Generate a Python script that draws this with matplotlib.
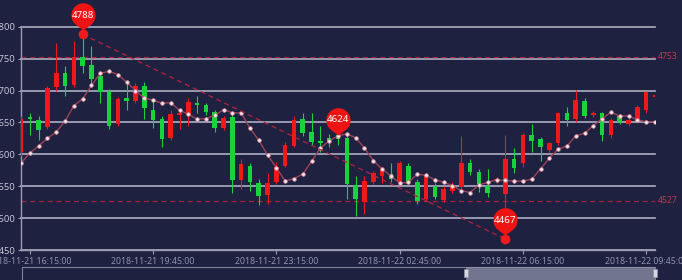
import numpy as np
import pandas as pd
import matplotlib
matplotlib.use("Agg")
import matplotlib.pyplot as plt
from matplotlib.path import Path
from matplotlib.patches import Rectangle

plt.rcParams['font.family'] = ['Noto Sans', 'DejaVu Sans']

# 15 minute bars, 2018-11-21 16:00 .. 2018-11-22 10:00
times = pd.date_range('2018-11-21 16:00', periods=73, freq='15min')
labels = times.strftime('%Y-%m-%d %H:%M:%S')

opens = [4604, 4658, 4653, 4643, 4705, 4727, 4708, 4752, 4740, 4722,
         4699, 4648, 4688, 4683, 4707, 4670, 4656, 4625, 4661, 4662,
         4680, 4678, 4667, 4642, 4658, 4559, 4582, 4555, 4536, 4556,
         4582, 4613, 4656, 4635, 4621, 4626, 4630, 4626, 4552, 4526,
         4556, 4566, 4569, 4556, 4582, 4557, 4530, 4551, 4528, 4543,
         4548, 4587, 4573, 4551, 4558, 4537, 4592, 4586, 4630, 4624,
         4607, 4617, 4664, 4655, 4683, 4661, 4665, 4631, 4660, 4647,
         4652, 4669, 4690]
closes = [4655, 4655, 4638, 4704, 4727, 4707, 4753, 4739, 4718, 4698,
          4645, 4687, 4683, 4707, 4673, 4653, 4624, 4663, 4664, 4682,
          4677, 4667, 4642, 4657, 4560, 4585, 4557, 4535, 4555, 4580,
          4615, 4653, 4633, 4619, 4617, 4620, 4624, 4553, 4530, 4558,
          4571, 4575, 4561, 4586, 4556, 4527, 4566, 4533, 4546, 4552,
          4587, 4573, 4553, 4540, 4561, 4592, 4579, 4630, 4621, 4611,
          4617, 4664, 4654, 4685, 4660, 4665, 4631, 4654, 4650, 4654,
          4674, 4697, 4693]
highs = [4660, 4664, 4660, 4707, 4774, 4738, 4777, 4788, 4769, 4725,
         4702, 4690, 4714, 4712, 4714, 4683, 4660, 4670, 4668, 4688,
         4691, 4681, 4670, 4660, 4665, 4592, 4587, 4561, 4570, 4588,
         4620, 4660, 4664, 4664, 4644, 4632, 4640, 4631, 4566, 4566,
         4574, 4580, 4587, 4590, 4587, 4561, 4570, 4555, 4550, 4556,
         4629, 4592, 4577, 4577, 4564, 4630, 4610, 4634, 4647, 4627,
         4620, 4667, 4674, 4701, 4688, 4668, 4667, 4657, 4663, 4657,
         4677, 4700, 4695]
lows = [4598, 4631, 4622, 4640, 4700, 4691, 4705, 4727, 4707, 4681,
        4640, 4645, 4670, 4680, 4655, 4642, 4611, 4622, 4640, 4644,
        4665, 4662, 4635, 4638, 4540, 4545, 4543, 4520, 4522, 4553,
        4580, 4612, 4628, 4615, 4603, 4612, 4615, 4530, 4504, 4506,
        4553, 4555, 4556, 4552, 4553, 4522, 4527, 4530, 4525, 4540,
        4545, 4567, 4541, 4533, 4555, 4467, 4571, 4580, 4603, 4590,
        4604, 4614, 4644, 4650, 4657, 4658, 4621, 4626, 4647, 4645,
        4650, 4665, 4688]
ma = [4586, 4602, 4613, 4625, 4635, 4652, 4676, 4687, 4708, 4727,
      4730, 4725, 4713, 4700, 4688, 4685, 4680, 4681, 4669, 4663,
      4655, 4656, 4661, 4670, 4665, 4665, 4641, 4622, 4599, 4579,
      4558, 4562, 4569, 4589, 4610, 4621, 4629, 4632, 4626, 4610,
      4590, 4577, 4566, 4555, 4556, 4569, 4567, 4560, 4556, 4551,
      4543, 4540, 4552, 4556, 4560, 4559, 4558, 4558, 4561, 4577,
      4594, 4608, 4613, 4629, 4633, 4645, 4656, 4666, 4660, 4660,
      4654, 4651, 4651]

pin_idx = [7, 36, 55]
pin_vals = [4788, 4624, 4467]
mark_lines = [4753, 4527]
tick_idx = [1, 15, 29, 43, 57, 71]

bg = '#1f2141'
grid_c = '#a6a9bd'
up_c = '#f01818'
down_c = '#18d43c'

fig = plt.figure(figsize=(6.82, 2.8), dpi=100)
fig.patch.set_facecolor(bg)
ax = fig.add_axes([21 / 682, 30 / 280, 634 / 682, 223.3 / 280])
ax.set_facecolor(bg)
ax.set_xlim(0, 72)
ax.set_ylim(4450, 4800)

ax.set_yticks(np.arange(4450, 4801, 50))
ax.yaxis.grid(True, color=grid_c, lw=1.25)
for gl in ax.get_ygridlines():
    gl.set_clip_on(False)
ax.set_axisbelow(True)
for s in ['top', 'right']:
    ax.spines[s].set_visible(False)
for s in ['left', 'bottom']:
    ax.spines[s].set_color('#9a9db2')
    ax.spines[s].set_linewidth(1.0)
ax.tick_params(axis='y', colors='#9a9db2', labelcolor='#c4c6d4',
               labelsize=6.8, length=2, pad=2)
ax.set_xticks(tick_idx)
ax.set_xticklabels([labels[i] for i in tick_idx])
ax.tick_params(axis='x', colors='#9a9db2', labelcolor='#8f93ab',
               labelsize=6.3, length=3, pad=2)

# candles
x = np.arange(len(opens))
o = np.array(opens, float)
c = np.array(closes, float)
cols = [up_c if cc >= oo else down_c for oo, cc in zip(o, c)]
ax.vlines(x, lows, highs, colors=cols, lw=0.8, zorder=3)
body = np.maximum(np.abs(c - o), 1.5)
ax.bar(x, body, bottom=np.minimum(o, c), width=0.52, color=cols,
       lw=0, zorder=4)

# moving average
ax.plot(x, ma, color='#9c4356', lw=1.0, marker='o', ms=2.6,
        mfc='#f6e8ec', mec='#d88a9c', mew=0.5, zorder=5)

# mark lines
for v in mark_lines:
    ax.axhline(v, ls=(0, (4, 3)), color='#a3243d', lw=0.9, zorder=2)
    ax.text(1.005, v, str(v), transform=ax.get_yaxis_transform(),
            color='#c2364d', fontsize=6.2, va='center', ha='left',
            clip_on=False)

# trend line between max and min
ax.plot([pin_idx[0], pin_idx[2]], [pin_vals[0], pin_vals[2]],
        ls=(0, (4, 3)), color='#b3243b', lw=0.9, zorder=6)
ax.plot([pin_idx[0], pin_idx[2]], [pin_vals[0], pin_vals[2]], 'o',
        color='#ee1c1c', ms=6, zorder=7, clip_on=False)

# pin markers
h, d, r = 0.33, 1.25, 1.0
cy = h + d
th = np.degrees(np.arccos(r / d))
ang = np.radians(np.linspace(-90 + th, 270 - th, 40))
verts = [(0, h)] + [(r * np.cos(a), cy + r * np.sin(a)) for a in ang] + [(0, h)]
pin = Path(verts, [Path.MOVETO] + [Path.LINETO] * 40 + [Path.CLOSEPOLY])
for i, v in zip(pin_idx, pin_vals):
    ax.plot(i, v, marker=pin, ms=45, color='#ee1414', mew=0, zorder=8,
            clip_on=False)
    ax.annotate(str(v), (i, v), xytext=(0, 19), textcoords='offset pixels',
                ha='center', va='center', color='white', fontsize=7,
                fontweight='bold', zorder=9, annotation_clip=False)

# data zoom slider
fig.add_artist(Rectangle((22 / 682, -0.05), 633 / 682, 0.05 + 13 / 280,
                         transform=fig.transFigure, fill=False,
                         edgecolor='#7f8399', lw=0.8))
fig.add_artist(Rectangle((466 / 682, -0.05), 189 / 682, 0.05 + 13 / 280,
                         transform=fig.transFigure, facecolor='#8e92a9',
                         alpha=0.75, lw=0))
for hx in [466, 655]:
    fig.add_artist(Rectangle(((hx - 2) / 682, 3 / 280), 4 / 682, 8 / 280,
                             transform=fig.transFigure, facecolor='#d4d6e0',
                             edgecolor='#8e92a9', lw=0.5))

fig.savefig('out.png', dpi=100, facecolor=bg)
